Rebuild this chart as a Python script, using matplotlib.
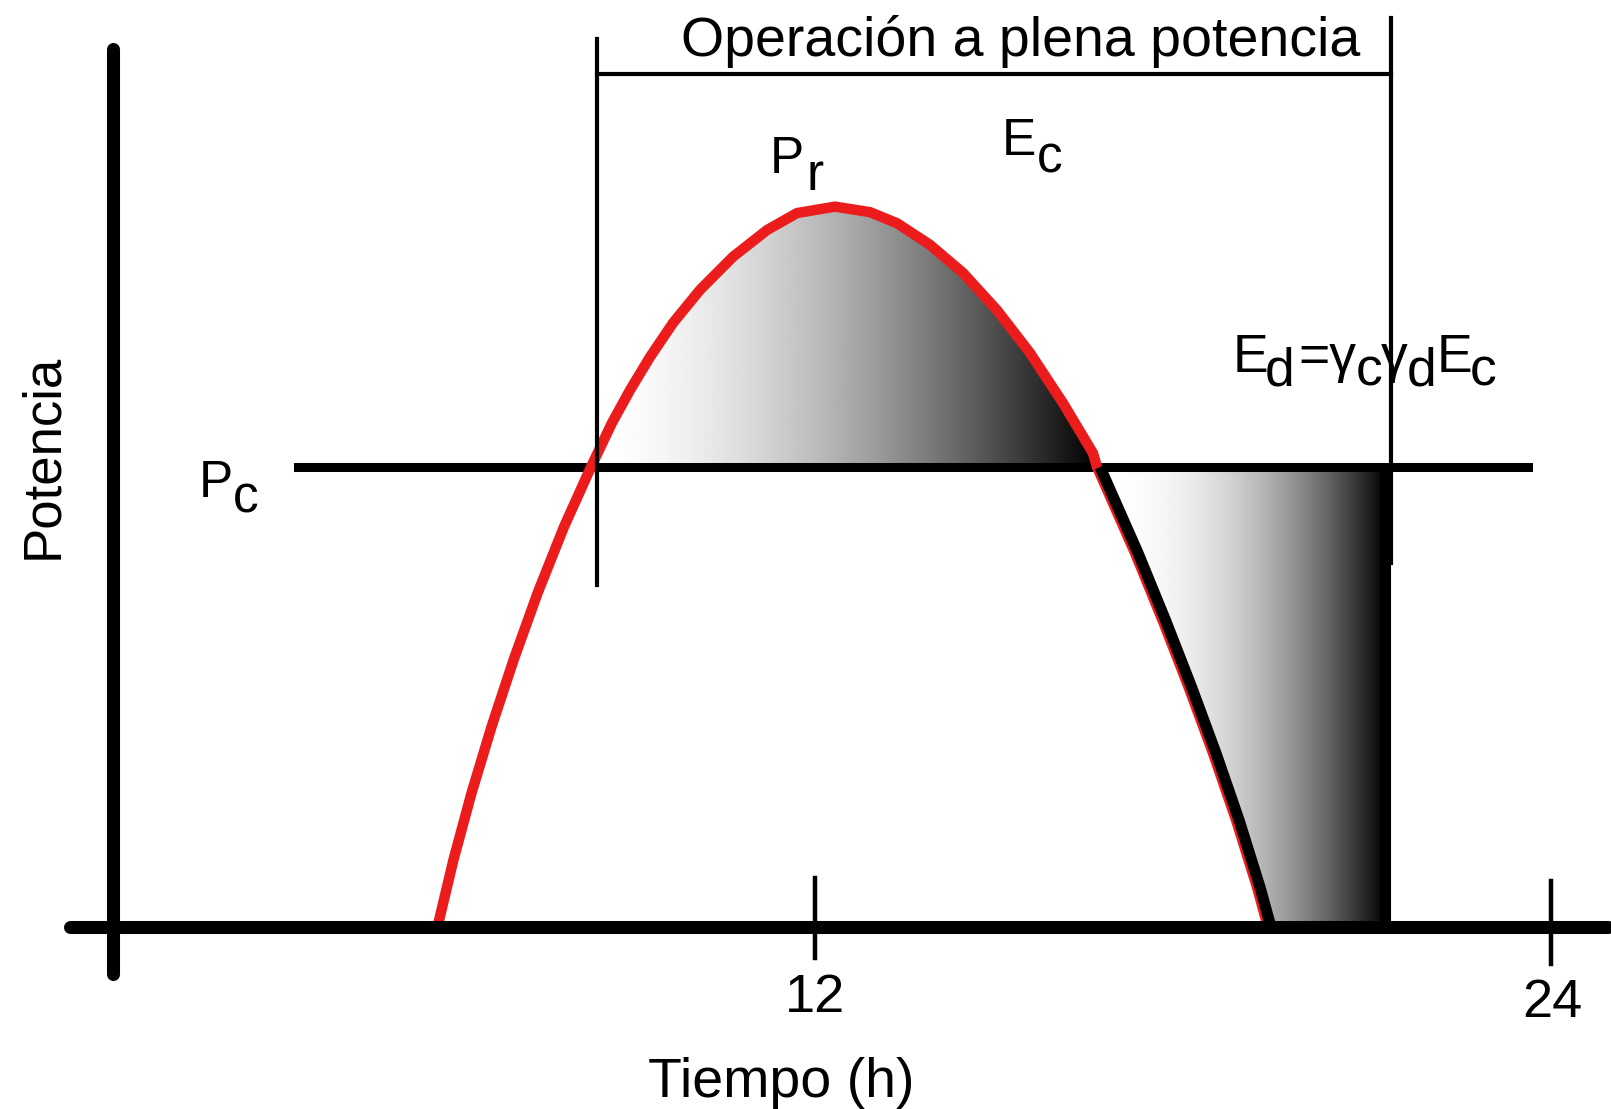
import matplotlib
matplotlib.use("Agg")
import matplotlib.pyplot as plt
from matplotlib.patches import Polygon
import numpy as np

plt.rcParams['font.family'] = ['Liberation Sans', 'DejaVu Sans']

# --- data (hours, power in units of Pc) ---
red_h = [5.845, 6.106, 6.400, 6.726, 7.085, 7.478, 7.908, 8.348, 8.691, 8.984, 9.310,
         9.685, 10.126, 10.664, 11.218, 11.707, 12.327, 12.897, 13.338, 13.876, 14.414,
         14.968, 15.506, 16.044, 16.534, 16.599, 17.219, 17.667, 18.091, 18.490, 18.865,
         19.207, 19.386]
red_p = [0.0, 0.146, 0.291, 0.435, 0.580, 0.726, 0.870, 1.000, 1.096, 1.167, 1.239,
         1.313, 1.385, 1.457, 1.515, 1.552, 1.566, 1.554, 1.530, 1.483, 1.422,
         1.341, 1.248, 1.139, 1.030, 1.000, 0.813, 0.667, 0.522, 0.378, 0.233,
         0.087, 0.0]

dis_h = [16.648, 17.268, 17.716, 18.140, 18.539, 18.914, 19.256, 19.436]
dis_p = [1.000, 0.813, 0.667, 0.522, 0.378, 0.233, 0.087, 0.0]

pc_level = 1.0
pc_line_h = [3.57, 23.63]
full_start = 8.45      # start of full power operation
full_end = 21.40       # end of full power operation
bar_h = 21.30          # end of discharge
tick_h = [12, 24]
tick_labels = ['12', '24']

fig = plt.figure(figsize=(16.11, 11.09), dpi=100)
ax = fig.add_axes([0, 0, 1, 1])
xlim = (-1.288, 24.98)
ylim = (-0.3957, 2.0152)


def gradient_poly(verts, x_white, x_black, gamma, y0, y1):
    poly = Polygon(verts, closed=True, facecolor='none', edgecolor='none')
    ax.add_patch(poly)
    xs = np.linspace(min(v[0] for v in verts), max(v[0] for v in verts), 600)
    f = np.clip((xs - x_white) / (x_black - x_white), 0, 1)
    img = 1 - f ** gamma
    im = ax.imshow(img[np.newaxis, :], cmap='gray', vmin=0, vmax=1, aspect='auto',
                   extent=[xs[0], xs[-1], y0, y1], interpolation='bilinear', zorder=1)
    im.set_clip_path(poly)


def label(pieces, size):
    # pieces: (text, x, baseline y); subscripts are full size, just dropped
    for txt, x, y in pieces:
        ax.text(x, y, txt, ha='left', va='baseline', fontsize=size, zorder=7)


# surplus (charging) region above Pc
verts1 = [(h, p) for h, p in zip(red_h, red_p) if p >= pc_level]
gradient_poly(verts1, 8.49, 16.57, 1.6, pc_level, max(red_p))

# discharge region below Pc
verts2 = list(zip(dis_h, dis_p)) + [(bar_h, 0), (bar_h, pc_level)]
gradient_poly(verts2, 16.65, 21.30, 2.2, 0, pc_level)

# axes
ax.plot([0.554, 0.554], [-0.102, 1.909], color='black', lw=9.4, solid_capstyle='round', zorder=5)
ax.plot([-0.147, 24.93], [0, 0], color='black', lw=9.4, solid_capstyle='round', zorder=5)
tick_bot = [-0.067, -0.080]
tick_top = [0.107, 0.100]
for h, b, t in zip(tick_h, tick_bot, tick_top):
    ax.plot([h, h], [b, t], color='black', lw=3.2, zorder=5)
ax.text(tick_h[0], -0.185, tick_labels[0], ha='center', va='baseline', fontsize=39)
ax.text(tick_h[1] + 0.02, -0.196, tick_labels[1], ha='center', va='baseline', fontsize=39)

# Pc line
ax.plot(pc_line_h, [pc_level, pc_level], color='black', lw=6.5, zorder=3)

# production curve and discharge curve
ax.plot(red_h, red_p, color='#ec1c1c', lw=7.5, solid_capstyle='butt',
        solid_joinstyle='round', zorder=4)
ax.plot(dis_h, dis_p, color='black', lw=8, solid_capstyle='butt',
        solid_joinstyle='round', zorder=4)
ax.plot([bar_h, bar_h], [0, pc_level], color='black', lw=8, solid_capstyle='butt', zorder=4)

# full power bracket
ax.plot([full_start, full_start], [0.743, 1.930], color='black', lw=3.0, zorder=6)
ax.plot([full_end, full_end], [0.791, 1.976], color='black', lw=3.0, zorder=6)
ax.plot([full_start, full_end], [1.855, 1.855], color='black', lw=3.0, zorder=6)

# labels
ax.text(15.36, 1.893, 'Operación a plena potencia', ha='center', va='baseline', fontsize=40)
ax.text(11.45, -0.370, 'Tiempo (h)', ha='center', va='baseline', fontsize=40)
ax.text(-0.59, 1.022, 'Potencia', ha='center', va='center', rotation=90, fontsize=38)

label([('P', 1.957, 0.935), ('c', 2.511, 0.900)], 37)
label([('P', 11.267, 1.639), ('r', 11.870, 1.602)], 37)
label([('E', 15.050, 1.678), ('c', 15.620, 1.641)], 37)
label([('E', 18.816, 1.2065), ('d', 19.338, 1.178), ('=γ', 19.876, 1.2065),
       ('c', 20.822, 1.178), ('γ', 21.230, 1.2065), ('d', 21.653, 1.178),
       ('E', 22.142, 1.2065), ('c', 22.680, 1.178)], 38.5)

ax.set_xlim(*xlim)
ax.set_ylim(*ylim)
ax.axis('off')

fig.savefig('out.png', dpi=100, facecolor='white')
